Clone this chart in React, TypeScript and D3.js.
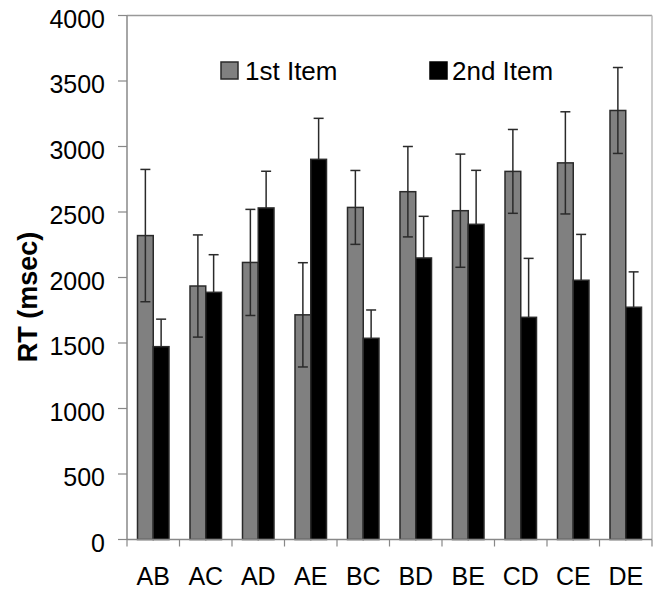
import React from "react";
import * as d3 from "d3";

const categories = ["AB", "AC", "AD", "AE", "BC", "BD", "BE", "CD", "CE", "DE"];
const firstItem = [2320, 1935, 2115, 1715, 2535, 2655, 2510, 2810, 2875, 3275];
const firstErr = [505, 390, 405, 398, 282, 345, 432, 320, 390, 328];
const secondItem = [1472, 1887, 2531, 2902, 1536, 2149, 2406, 1696, 1979, 1773];
const secondErr = [210, 287, 280, 313, 216, 318, 412, 450, 350, 270];
const yTicks = [0, 500, 1000, 1500, 2000, 2500, 3000, 3500, 4000];
const seriesNames = ["1st Item", "2nd Item"];

const W = 657;
const H = 592;
const margin = { top: 15.5, right: 5, bottom: 52.5, left: 127 };
const font = "'Liberation Sans', Arial, Helvetica, sans-serif";

const App = () => {
  const y = d3
    .scaleLinear()
    .domain([0, 4000])
    .range([H - margin.bottom, margin.top]);
  const x = d3
    .scaleBand()
    .domain(categories)
    .range([margin.left, W - margin.right])
    .paddingInner(0.4)
    .paddingOuter(0.2);
  const sub = d3
    .scaleBand()
    .domain(["first", "second"])
    .range([0, x.bandwidth()]);

  const series = [
    { key: "first", vals: firstItem, errs: firstErr, fill: "#808080" },
    { key: "second", vals: secondItem, errs: secondErr, fill: "#000000" },
  ];

  const x0 = margin.left;
  const x1 = W - margin.right;
  const y0 = y(0);
  const yTop = y(4000);
  const half = (x.paddingInner() * x.step()) / 2;

  const errBars = s =>
    categories.map((c, i) => {
      const cx = (x(c) as number) + (sub(s.key) as number) + sub.bandwidth() / 2;
      const hi = y(s.vals[i] + s.errs[i]);
      const lo = y(s.vals[i] - s.errs[i]);
      return (
        <g key={"e" + s.key + c} stroke="#2a2a2a" strokeWidth={1.5}>
          <line x1={cx} x2={cx} y1={hi} y2={lo} />
          <line x1={cx - 5} x2={cx + 5} y1={hi} y2={hi} />
          <line x1={cx - 5} x2={cx + 5} y1={lo} y2={lo} />
        </g>
      );
    });

  return (
    <svg
      width={W}
      height={H}
      style={{ position: "absolute", left: 0, top: 0, background: "#fff" }}
      fontFamily={font}
    >
      {/* plot border top/right */}
      <line x1={x0} x2={x1} y1={yTop} y2={yTop} stroke="#999" strokeWidth={1.5} />
      <line x1={x1} x2={x1} y1={yTop} y2={y0} stroke="#bbb" strokeWidth={1.5} />

      {/* 2nd item error bars sit behind the black bars */}
      {errBars(series[1])}

      {/* bars */}
      {series.map(s =>
        categories.map((c, i) => (
          <rect
            key={s.key + c}
            x={(x(c) as number) + (sub(s.key) as number)}
            y={y(s.vals[i])}
            width={sub.bandwidth()}
            height={y0 - y(s.vals[i])}
            fill={s.fill}
            stroke="#2a2a2a"
            strokeWidth={1.5}
          />
        ))
      )}

      {errBars(series[0])}

      {/* y axis */}
      <line x1={x0} x2={x0} y1={yTop} y2={y0} stroke="#888" strokeWidth={1.5} />
      {yTicks.map(t => (
        <g key={t}>
          <line x1={x0 - 9} x2={x0} y1={y(t)} y2={y(t)} stroke="#888" strokeWidth={1.2} />
          <text x={105} y={y(t) + 12} textAnchor="end" fontSize={25} fill="#000">
            {t}
          </text>
        </g>
      ))}

      {/* x axis */}
      <line x1={x0} x2={x1} y1={y0} y2={y0} stroke="#888" strokeWidth={1.5} />
      {categories.map(c => (
        <line
          key={"t" + c}
          x1={(x(c) as number) - half}
          x2={(x(c) as number) - half}
          y1={y0}
          y2={y0 + 7}
          stroke="#888"
          strokeWidth={1.2}
        />
      ))}
      <line x1={x1} x2={x1} y1={y0} y2={y0 + 7} stroke="#888" strokeWidth={1.2} />
      {categories.map(c => (
        <text
          key={"l" + c}
          x={(x(c) as number) + x.bandwidth() / 2}
          y={585}
          textAnchor="middle"
          fontSize={25}
          fill="#000"
        >
          {c}
        </text>
      ))}

      {/* y title */}
      <text
        transform="translate(37, 297) rotate(-90)"
        textAnchor="middle"
        fontSize={27}
        fontWeight="bold"
        fill="#000"
      >
        RT (msec)
      </text>

      {/* legend */}
      <rect x={221} y={62} width={17} height={17} fill="#808080" stroke="#2a2a2a" strokeWidth={1.5} />
      <text x={245} y={80} fontSize={26} fill="#000">{seriesNames[0]}</text>
      <rect x={430} y={62} width={17} height={17} fill="#000" stroke="#000" strokeWidth={1.5} />
      <text x={452} y={80} fontSize={26} fill="#000">{seriesNames[1]}</text>
    </svg>
  );
};

export default App;
